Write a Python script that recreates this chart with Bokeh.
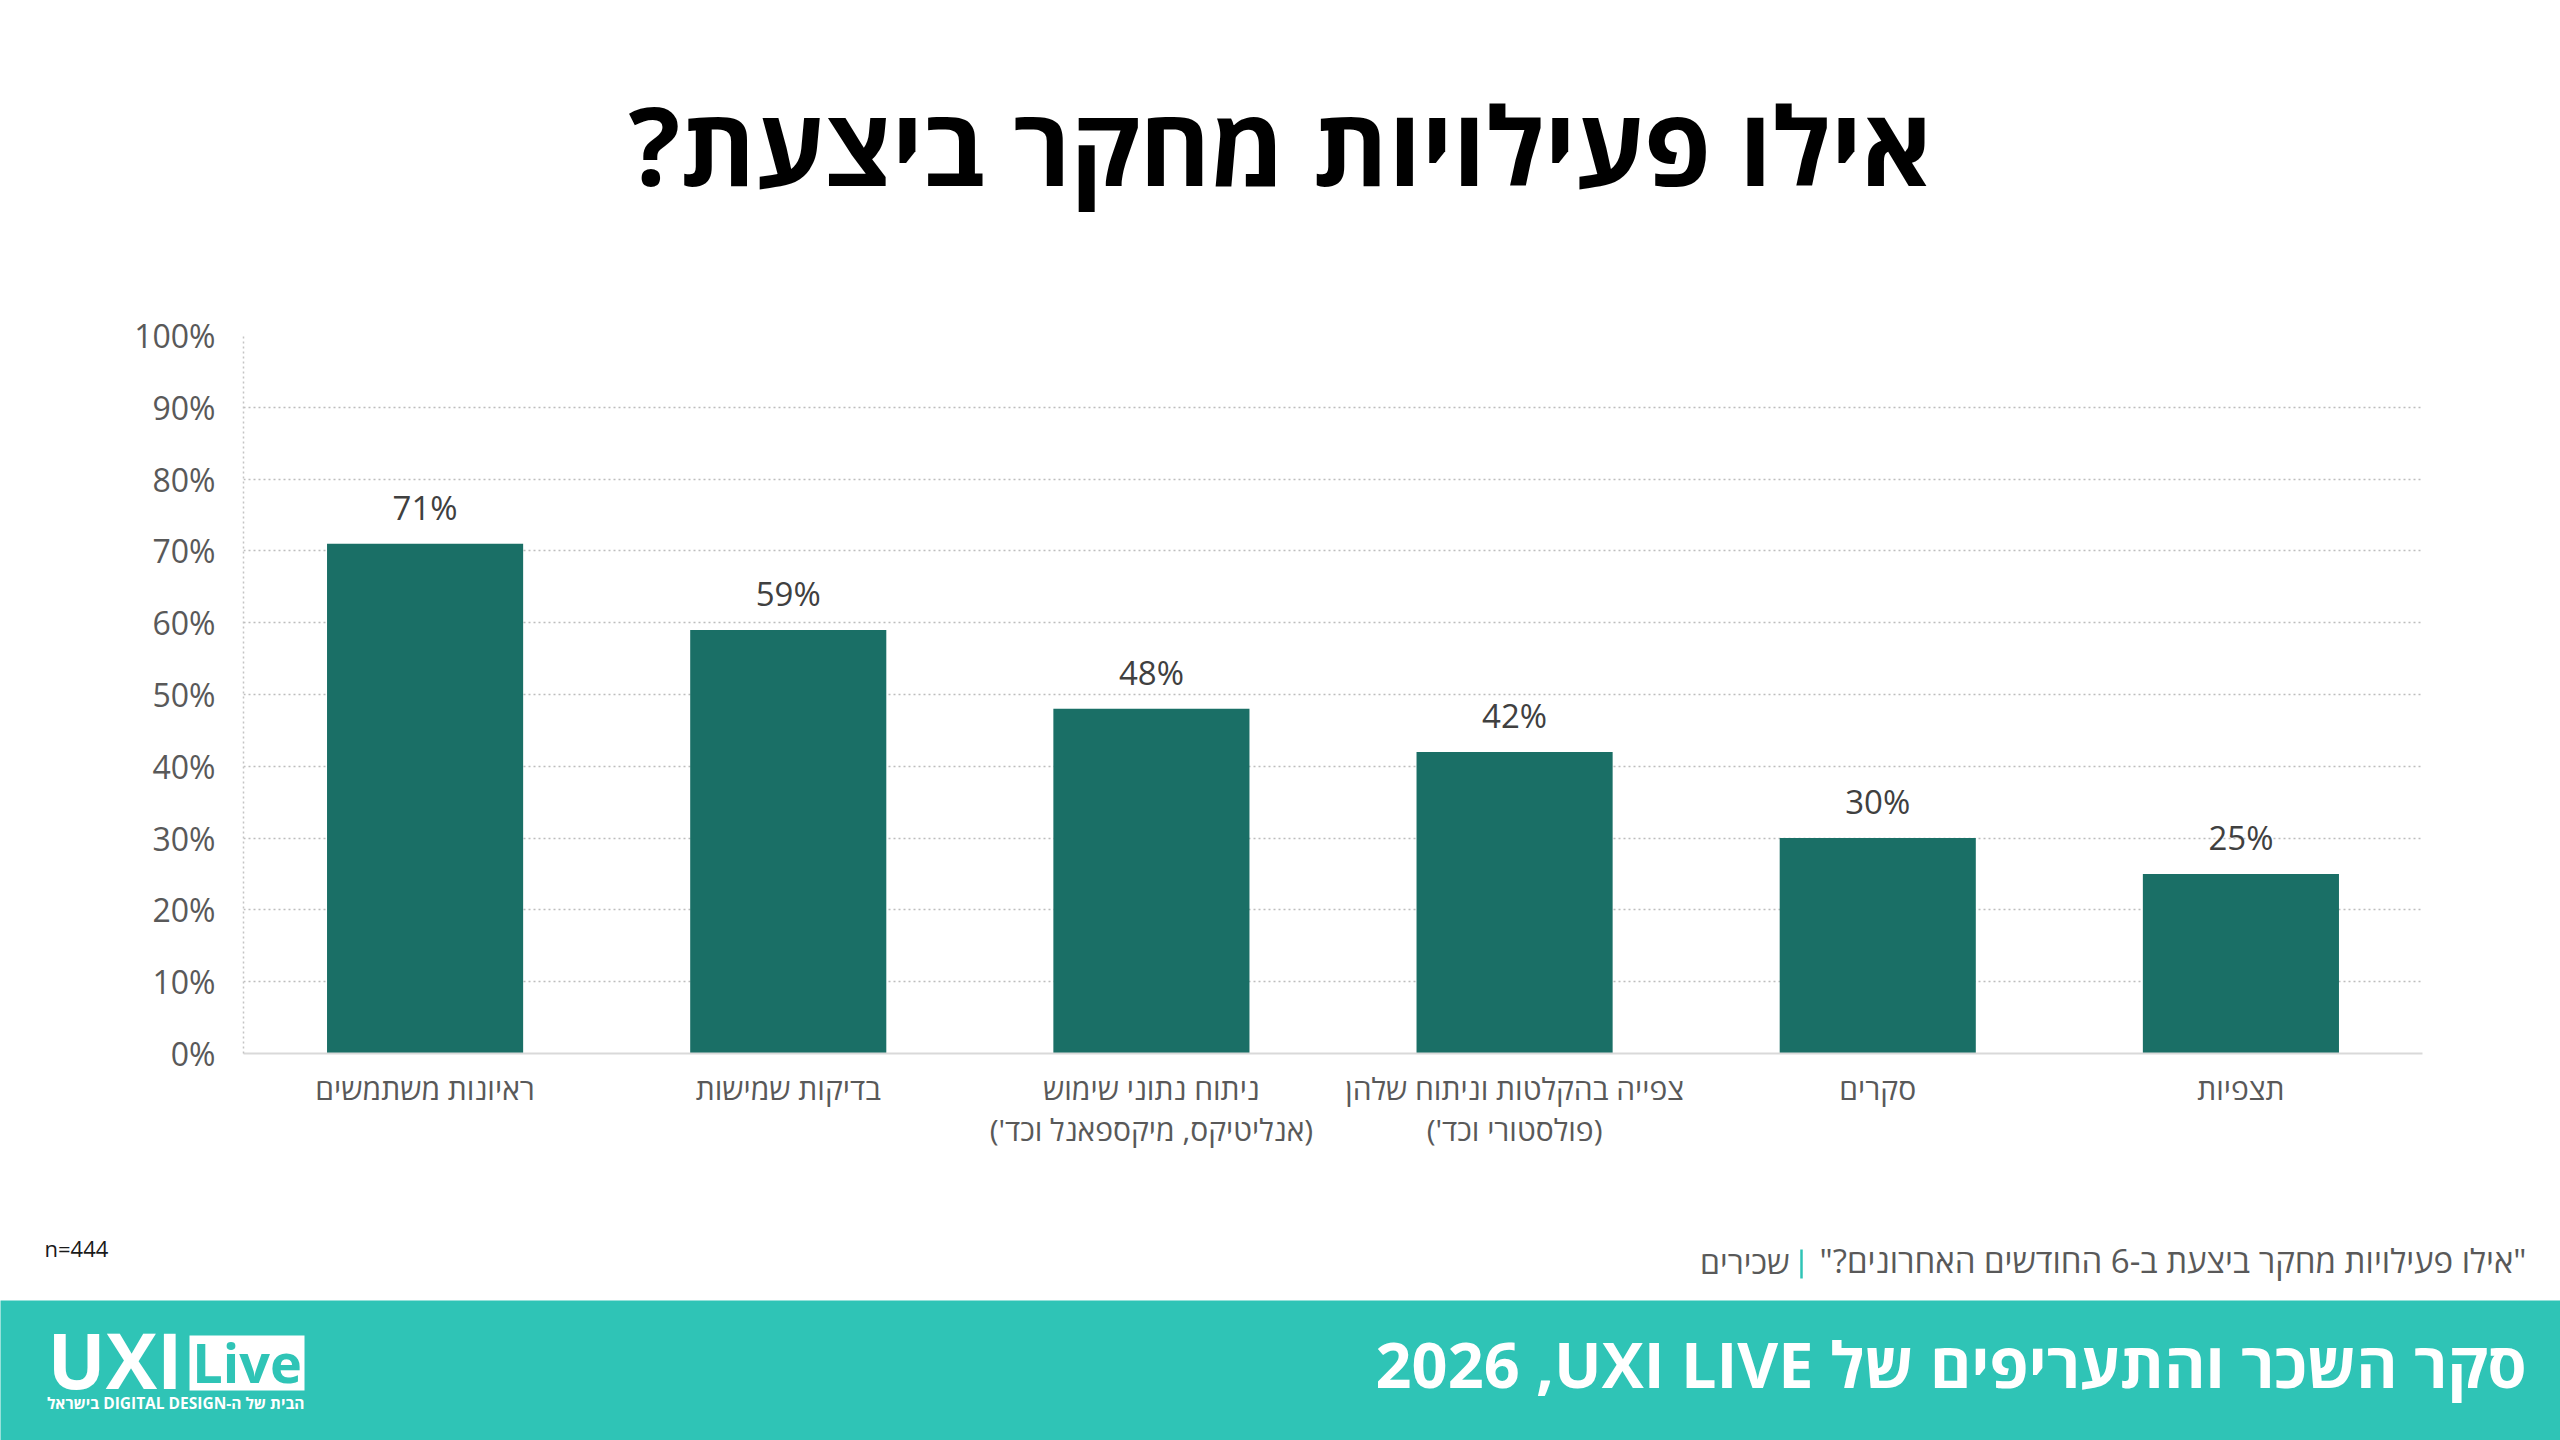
from bokeh.plotting import figure
from bokeh.models import Range1d, FactorRange, FixedTicker, PrintfTickFormatter, ColumnDataSource
from bokeh.layouts import column
from bokeh.embed import file_html
from bokeh.resources import INLINE
from bokeh.core.properties import value

# ---------------- data ----------------
categories = [
    "ראיונות משתמשים",
    "בדיקות שמישות",
    "ניתוח נתוני שימוש\n(אנליטיקס, מיקספאנל וכד')",
    "צפייה בהקלטות וניתוח שלהן\n(פולסטורי וכד')",
    "סקרים",
    "תצפיות",
]
values = [71, 59, 48, 42, 30, 25]
y_ticks = [0, 10, 20, 30, 40, 50, 60, 70, 80, 90, 100]

title_text = "אילו פעילויות מחקר ביצעת?"
question_text = '"אילו פעילויות מחקר ביצעת ב-6 החודשים האחרונים?"'
group_text = "שכירים"
sample_text = "n=444"
RLM = "\u200f"
footer_text = "סקר השכר והתעריפים של UXI LIVE" + RLM + ", 2026"
logo_main = "UXI"
logo_box = "Live"
logo_tagline = "הבית של ה-DIGITAL DESIGN בישראל"

# ---------------- style ----------------
W = 2560
FONT = "Open Sans"
BAR = "#1a6f66"
TEAL = "#2fc4b6"
GREY = "#595959"


def rtl(s):
    return "\n".join("\u202b" + line + "\u202c" for line in s.split("\n"))


def strip(h, y_top, bg="white"):
    f = figure(width=W, height=h, x_range=Range1d(0, W), y_range=Range1d(y_top + h, y_top),
               output_backend="svg", toolbar_location=None, min_border=0,
               x_axis_location=None, y_axis_location=None, frame_align=False,
               background_fill_color=bg, border_fill_color=bg, outline_line_color=None)
    f.grid.visible = False
    return f


def txt(f, x, base, s, size, color, align="left", bold=False):
    # base: wanted baseline position; compensate renderer's alphabetic offset
    f.text(x=[x], y=[base - 0.42 * size], text=[s], text_font=value(FONT), text_font_size=f"{size}px",
           text_color=color, text_align=align, text_baseline="alphabetic",
           text_font_style="bold" if bold else "normal")


# header
header = strip(268, 0)
txt(header, 1280, 189, rtl(title_text), 108, "#000000", align="center", bold=True)

# chart
factors = [rtl(c) for c in categories]
src = ColumnDataSource(dict(cat=factors, val=values, lab=[f"{v}%" for v in values]))
p = figure(width=W, height=942, x_range=FactorRange(*factors, range_padding=0), y_range=Range1d(0, 100),
           output_backend="svg", toolbar_location=None, frame_align=False,
           min_border_left=243, min_border_right=138, min_border_top=67, min_border_bottom=157,
           outline_line_color=None)
p.vbar(x="cat", top="val", width=0.54, source=src, fill_color=BAR, line_color=None)
p.text(x="cat", y="val", text="lab", source=src, text_align="center", text_baseline="bottom",
       y_offset=-14, text_font=value(FONT), text_font_size="33px", text_color="#404040")

p.yaxis.ticker = FixedTicker(ticks=y_ticks)
p.yaxis.formatter = PrintfTickFormatter(format="%d%%")
p.yaxis.major_tick_line_color = None
p.yaxis.minor_tick_line_color = None
p.yaxis.major_tick_out = 0
p.yaxis.major_tick_in = 0
p.yaxis.axis_line_color = "#c4c4c4"
p.yaxis.axis_line_dash = "2 3"
p.yaxis.axis_line_width = 1.5
p.yaxis.major_label_text_font = FONT
p.yaxis.major_label_text_font_size = "32px"
p.yaxis.major_label_text_color = GREY
p.yaxis.major_label_standoff = 28

p.ygrid.grid_line_color = "#bdbdbd"
p.ygrid.grid_line_dash = "2 3"
p.ygrid.grid_line_width = 1.5
p.xgrid.visible = False

p.xaxis.axis_line_color = "#d9d9d9"
p.xaxis.axis_line_width = 2
p.xaxis.major_tick_line_color = None
p.xaxis.minor_tick_line_color = None
p.xaxis.major_tick_out = 0
p.xaxis.major_tick_in = 0
p.xaxis.major_label_text_font = FONT
p.xaxis.major_label_text_font_size = "30px"
p.xaxis.major_label_text_color = GREY
p.xaxis.major_label_standoff = 14
p.xaxis.major_label_text_line_height = 1.0

# notes
note = strip(90, 1210)
txt(note, 44, 1257, sample_text, 22, "#1a1a1a")
txt(note, 2526, 1274, rtl(question_text), 33, GREY, align="right")
txt(note, 1789, 1274, rtl(group_text), 32, GREY, align="right")
note.segment(x0=[1801], y0=[1249], x1=[1801], y1=[1278], line_color=TEAL, line_width=2.5)

# footer
footer = strip(140, 1300, bg=TEAL)
txt(footer, 2526, 1389, rtl(footer_text), 63, "white", align="right", bold=True)
txt(footer, 47, 1391, logo_main, 77, "white", bold=True)
footer.quad(left=[189], right=[304], top=[1335], bottom=[1390], fill_color="white", line_color=None)
txt(footer, 246.5, 1384, logo_box, 54, TEAL, align="center", bold=True)
txt(footer, 304, 1409, rtl(logo_tagline), 15.5, "white", align="right", bold=True)

layout = column(header, p, note, footer, spacing=0)
open("out.html", "w").write(file_html(layout, INLINE))
